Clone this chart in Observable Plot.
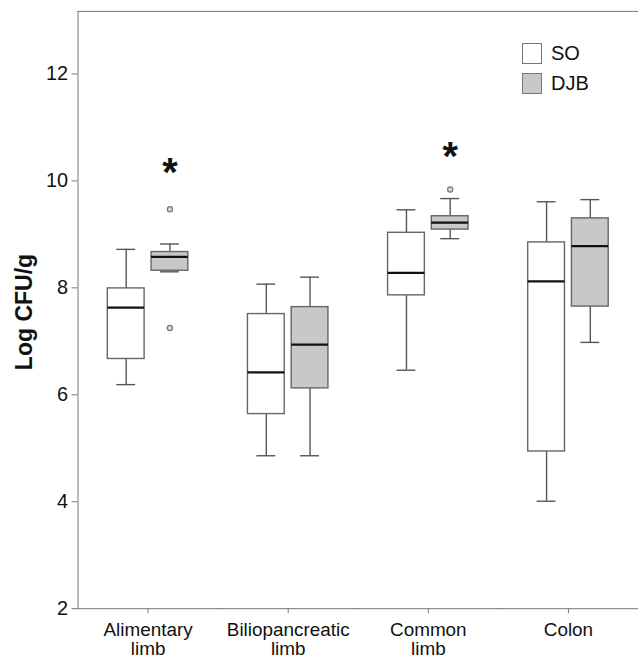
<!DOCTYPE html>
<html><head><meta charset="utf-8">
<script src="https://cdn.jsdelivr.net/npm/d3@7"></script>
<script src="https://cdn.jsdelivr.net/npm/@observablehq/plot@0.6"></script>
<style>
html,body{margin:0;padding:0;background:#fff;overflow:hidden;}
#wrap{position:relative;width:638px;height:659px;overflow:hidden;font-family:"Liberation Sans",Arial,sans-serif;color:#111;}
#wrap svg{position:absolute;left:0;top:0;}
.ylab{position:absolute;left:24px;top:312px;transform:translate(-50%,-50%) rotate(-90deg);font-weight:bold;font-size:23px;white-space:nowrap;}
.leg{position:absolute;left:522px;font-size:20px;display:flex;align-items:center;}
.leg span.sw{display:inline-block;width:18px;height:19px;border:1px solid #777;margin-right:9px;}
</style></head><body><div id="wrap"></div>
<script>
const categories = ["Alimentary limb","Biliopancreatic limb","Common limb","Colon"];
const tickLabels = ["Alimentary\nlimb","Biliopancreatic\nlimb","Common\nlimb","Colon"];
const groups = ["SO","DJB"];
const groupFills = ["#ffffff","#c8c8c8"];
const yTicks = [2,4,6,8,10,12];

const soLow  = [6.19, 4.86, 6.46, 4.01];
const soQ1   = [6.67, 5.64, 7.86, 4.94];
const soMed  = [7.63, 6.42, 8.28, 8.12];
const soQ3   = [7.99, 7.51, 9.03, 8.85];
const soHigh = [8.72, 8.07, 9.46, 9.61];

const djbLow  = [8.30, 4.86, 8.92, 6.98];
const djbQ1   = [8.32, 6.12, 9.09, 7.65];
const djbMed  = [8.58, 6.94, 9.22, 8.78];
const djbQ3   = [8.67, 7.64, 9.34, 9.30];
const djbHigh = [8.82, 8.20, 9.67, 9.65];

const outlierCats   = ["Alimentary limb","Alimentary limb","Common limb"];
const outlierGroups = ["DJB","DJB","DJB"];
const outlierValues = [9.47, 7.25, 9.84];

const starCats   = ["Alimentary limb","Common limb"];
const starGroups = ["DJB","DJB"];
const starValues = [10.25, 10.56];

const rows = [];
categories.forEach((c,i)=>{
  rows.push({cat:c, group:"SO", lo:soLow[i], q1:soQ1[i], med:soMed[i], q3:soQ3[i], hi:soHigh[i]});
  rows.push({cat:c, group:"DJB", lo:djbLow[i], q1:djbQ1[i], med:djbMed[i], q3:djbQ3[i], hi:djbHigh[i]});
});
const outliers = outlierValues.map((v,i)=>({cat:outlierCats[i], group:outlierGroups[i], v}));
const stars = starValues.map((v,i)=>({cat:starCats[i], group:starGroups[i], v}));

const lineColor = "#555";
const chart = Plot.plot({
  width: 642, height: 659,
  marginLeft: 77, marginRight: 0, marginTop: 11, marginBottom: 47,
  style: {fontFamily: "Liberation Sans, Arial, sans-serif", fontSize: "19px", color: "#111", background: "transparent"},
  fx: {domain: categories, padding: 0, axis: null},
  x: {domain: groups, paddingInner: 0.16, paddingOuter: 0.68, axis: null},
  y: {domain: [2, 13.17], axis: null},
  color: {domain: groups, range: groupFills},
  marks: [
    Plot.frame({anchor: "top", stroke: "#777"}),
    Plot.frame({anchor: "bottom", stroke: "#777"}),
    Plot.frame({anchor: "left", stroke: "#777", facetAnchor: "left"}),
    Plot.axisY({ticks: yTicks, tickSize: 6, tickPadding: 4, fontSize: 20, label: null, stroke: "#777", fill: "#111"}),
    Plot.axisFx({anchor: "bottom", tickSize: 5, tickPadding: 9, fontSize: 19, lineHeight: 1, label: null, stroke: "#777", fill: "#111",
      tickFormat: d => tickLabels[categories.indexOf(d)]}),
    Plot.ruleX(rows, {fx: "cat", x: "group", y1: "lo", y2: "q1", stroke: lineColor, strokeWidth: 1.4}),
    Plot.ruleX(rows, {fx: "cat", x: "group", y1: "q3", y2: "hi", stroke: lineColor, strokeWidth: 1.4}),
    Plot.tickY(rows, {fx: "cat", x: "group", y: "lo", inset: 9, stroke: lineColor, strokeWidth: 1.4}),
    Plot.tickY(rows, {fx: "cat", x: "group", y: "hi", inset: 9, stroke: lineColor, strokeWidth: 1.4}),
    Plot.barY(rows, {fx: "cat", x: "group", y1: "q1", y2: "q3", fill: "group", stroke: "#666", strokeWidth: 1.4}),
    Plot.tickY(rows, {fx: "cat", x: "group", y: "med", stroke: "#111", strokeWidth: 2.2}),
    Plot.dot(outliers, {fx: "cat", x: "group", y: "v", r: 2.6, stroke: "#777", fill: "#d8d8d8", strokeWidth: 1.2}),
    Plot.text(stars, {fx: "cat", x: "group", y: "v", text: () => "*", fontSize: 40, fontWeight: "bold", fill: "#111", lineAnchor: "middle", dy: 6})
  ]
});
const wrap = document.getElementById("wrap");
wrap.appendChild(chart);
const yl = document.createElement("div"); yl.className = "ylab"; yl.textContent = "Log CFU/g"; wrap.appendChild(yl);
groups.forEach((g,i)=>{
  const d = document.createElement("div"); d.className = "leg"; d.style.top = (42 + i*30) + "px";
  const sw = document.createElement("span"); sw.className = "sw"; sw.style.background = groupFills[i];
  d.appendChild(sw); d.appendChild(document.createTextNode(g)); wrap.appendChild(d);
});
</script></body></html>
